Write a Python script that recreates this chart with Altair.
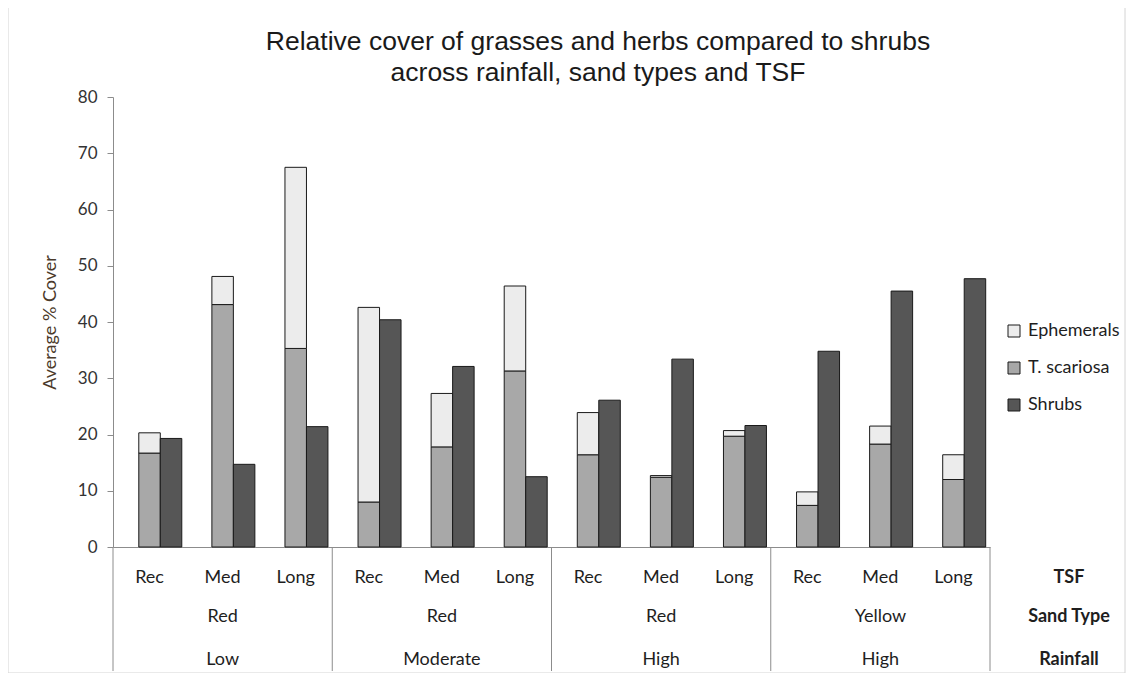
import altair as alt
import pandas as pd

# ---- data ----
tsf = ["Rec", "Med", "Long"] * 4
sand = ["Red"] * 9 + ["Yellow"] * 3
rain = ["Low"] * 3 + ["Moderate"] * 3 + ["High"] * 6
t_scariosa = [16.7, 43.1, 35.3, 8.0, 17.8, 31.3, 16.4, 12.4, 19.7, 7.4, 18.3, 12.0]
ephemerals = [3.6, 5.0, 32.2, 34.6, 9.5, 15.1, 7.5, 0.3, 1.0, 2.4, 3.2, 4.4]
shrubs = [19.3, 14.7, 21.4, 40.4, 32.1, 12.5, 26.1, 33.4, 21.6, 34.8, 45.5, 47.7]
series = ["Ephemerals", "T. scariosa", "Shrubs"]
series_colors = ["#ececec", "#a8a8a8", "#565656"]
row_headers = ["TSF", "Sand Type", "Rainfall"]
title_lines = ["Relative cover of grasses and herbs compared to shrubs",
               "across rainfall, sand types and TSF"]

keys = [f"{r}|{s}|{t}|{i}" for i, (r, s, t) in enumerate(zip(rain, sand, tsf))]

rows = []
for k, ts, ep, sh in zip(keys, t_scariosa, ephemerals, shrubs):
    rows.append(dict(key=k, slot="stack", series="T. scariosa", y0=0, y1=ts))
    rows.append(dict(key=k, slot="stack", series="Ephemerals", y0=ts, y1=ts + ep))
    rows.append(dict(key=k, slot="shrubs", series="Shrubs", y0=0, y1=sh))
bars_df = pd.DataFrame(rows)

labels_df = pd.DataFrame(dict(key=keys, tsf=tsf, sand=sand, rain=rain))
mid_df = labels_df[labels_df["tsf"] == "Med"]

W, H = 877, 450
FONT = "Lato"
TXT = "#1e1e1e"

xscale = alt.Scale(domain=keys, paddingInner=0, paddingOuter=0)
xenc = alt.X("key:N", scale=xscale, sort=keys,
             axis=alt.Axis(labels=False, ticks=False, title=None, domainColor="#8c8c8c", grid=False))

bars = alt.Chart(bars_df).mark_bar(stroke="#1a1a1a", strokeWidth=1).encode(
    x=xenc,
    xOffset=alt.XOffset("slot:N", scale=alt.Scale(domain=["_", "stack", "shrubs"],
                                                  paddingInner=0, paddingOuter=0.2)),
    y=alt.Y("y0:Q", scale=alt.Scale(domain=[0, 80], nice=False),
            axis=alt.Axis(values=list(range(0, 81, 10)), grid=False, tickSize=6,
                          tickColor="#8c8c8c", domainColor="#8c8c8c",
                          labelFont=FONT, labelFontSize=17, labelColor="#333333",
                          labelPadding=10, title="Average % Cover", titleFont=FONT,
                          titleFontSize=18, titleFontWeight="normal", titleColor="#4b3a2a",
                          titleX=-63, titleY=H / 2, titleAngle=270, titleAlign="center",
                          titleBaseline="middle")),
    y2="y1:Q",
    color=alt.Color("series:N", scale=alt.Scale(domain=series, range=series_colors),
                    legend=alt.Legend(title=None, orient="none", legendX=892, legendY=225,
                                      symbolType="square", symbolSize=144,
                                      symbolStrokeColor="#1a1a1a", symbolStrokeWidth=1,
                                      labelFont=FONT, labelFontSize=18, labelColor=TXT,
                                      rowPadding=19, labelOffset=5)),
)

def row_text(df, field, yy):
    return alt.Chart(df).mark_text(font=FONT, fontSize=18, color=TXT, baseline="middle").encode(
        x=alt.X("key:N", scale=xscale, sort=keys), y=alt.value(yy), text=f"{field}:N")

tsf_text = row_text(labels_df, "tsf", 481)
sand_text = row_text(mid_df, "sand", 520)
rain_text = row_text(mid_df, "rain", 563)

header_layers = []
for txt, yy in zip(row_headers, [481, 520, 563]):
    header_layers.append(
        alt.Chart(pd.DataFrame({"t": [txt]})).mark_text(
            font=FONT, fontSize=18, fontWeight="bold", color=TXT, baseline="middle"
        ).encode(x=alt.value(956), y=alt.value(yy), text="t:N"))

title_layers = []
for txt, yy in zip(title_lines, [-47, -16]):
    title_layers.append(
        alt.Chart(pd.DataFrame({"t": [txt]})).mark_text(
            font="Liberation Sans", fontSize=26.5, color="#1a1a1a", baseline="alphabetic",
            align="center"
        ).encode(x=alt.value(485), y=alt.value(yy), text="t:N"))

div_start = pd.DataFrame({"key": [keys[0], keys[3], keys[6], keys[9]]})
div_end = pd.DataFrame({"key": [keys[11]]})
dividers = alt.Chart(div_start).mark_rule(color="#8c8c8c", strokeWidth=1).encode(
    x=alt.X("key:N", scale=xscale, sort=keys, bandPosition=0),
    y=alt.value(H), y2=alt.value(574))
divider_end = alt.Chart(div_end).mark_rule(color="#8c8c8c", strokeWidth=1).encode(
    x=alt.X("key:N", scale=xscale, sort=keys, bandPosition=1),
    y=alt.value(H), y2=alt.value(574))

frame_left = alt.Chart(pd.DataFrame({"a": [0]})).mark_rule(color="#d4d4d4").encode(
    x=alt.value(-105), y=alt.value(-89), y2=alt.value(576))
frame_right = alt.Chart(pd.DataFrame({"a": [0]})).mark_rule(color="#d4d4d4").encode(
    x=alt.value(1012), y=alt.value(-89), y2=alt.value(576))
frame_bottom = alt.Chart(pd.DataFrame({"a": [0]})).mark_rule(color="#d4d4d4").encode(
    x=alt.value(-105), x2=alt.value(1012), y=alt.value(576))

chart = alt.layer(frame_left, frame_right, frame_bottom, bars, dividers, divider_end,
                  tsf_text, sand_text, rain_text, *header_layers, *title_layers).properties(
    width=W, height=H,
    padding={"left": 105, "top": 89, "right": 136, "bottom": 126},
    autosize=alt.AutoSizeParams(type="none"),
).configure(background="white").configure_view(strokeWidth=0, stroke="transparent")

chart.save("out.html", embed_options={"renderer": "svg", "actions": False})
